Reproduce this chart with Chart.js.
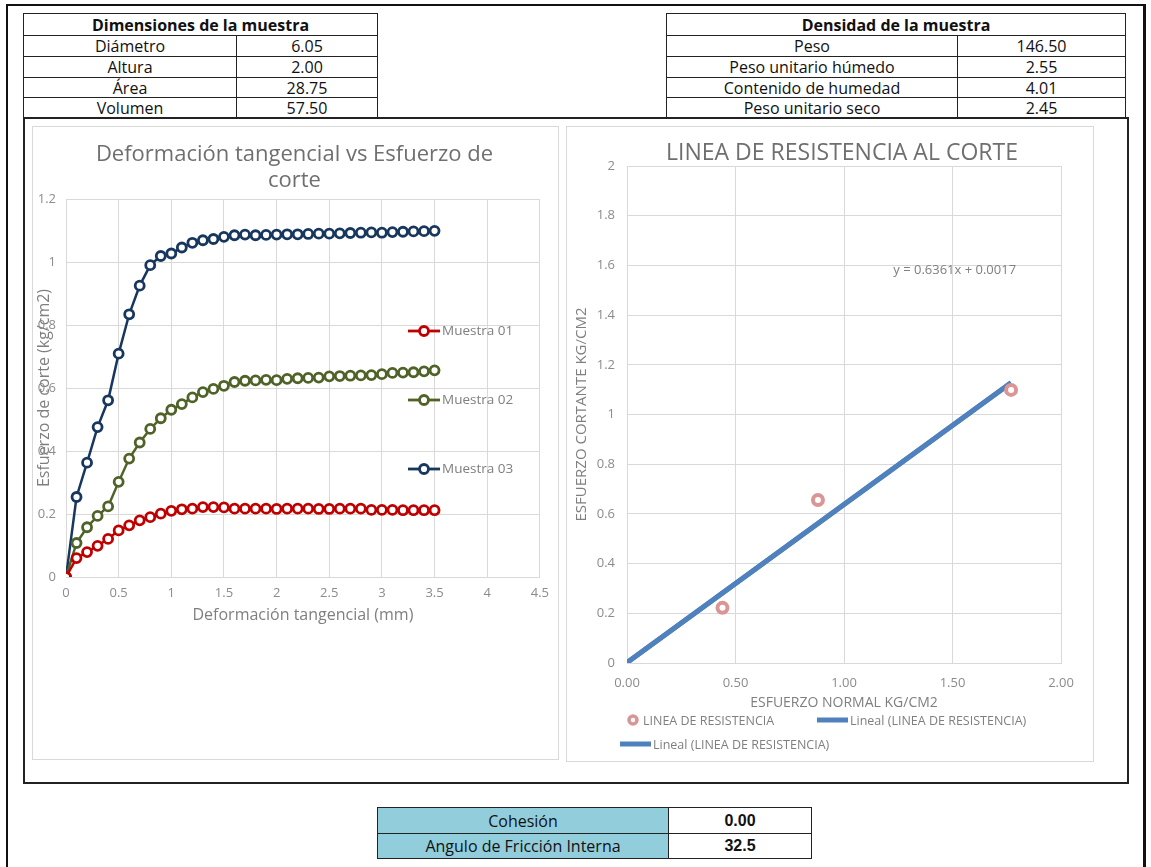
<!DOCTYPE html>
<html lang="es">
<head>
    <meta charset="UTF-8">
    <title>Ensayo de corte directo</title>
    <style>
        body {
            margin: 0;
            width: 1151px;
            height: 867px;
            overflow: hidden;
            background: #fff;
            font-family: "Open Sans", sans-serif;
            position: relative;
        }
        .marco {
            position: absolute;
            left: 6px;
            top: 4px;
            width: 1135px;
            height: 900px;
            border: 2px solid #111;
            border-right-width: 3px;
        }
        .interior {
            position: absolute;
            left: 23px;
            top: 117px;
            width: 1102px;
            height: 663px;
            border: 2px solid #222;
        }
        table {
            position: absolute;
            border-collapse: collapse;
            font-size: 16px;
            color: #111;
        }
        table td, table th {
            border: 1.5px solid #222;
            padding: 0;
            text-align: center;
            line-height: 16px;
        }
        table th {
            font-weight: bold;
        }
        .caja {
            position: absolute;
            border: 1px solid #d9d9d9;
        }
        .titulo {
            position: absolute;
            text-align: center;
            color: #6f6f6f;
            line-height: 26px;
        }
        .resumen td.etiqueta {
            background: #92cddc;
        }
        .resumen td.valor {
            font-family: "Liberation Sans", Arial, sans-serif;
            font-weight: bold;
        }
    </style>
</head>
<body>
    <div class="marco"></div>
    <div class="interior"></div>

    <table id="dimensiones" style="left:23px; top:13px; width:355px;">
        <tr style="height:22px"><th colspan="2">Dimensiones de la muestra</th></tr>
        <tr style="height:21px"><td style="width:212px">Diámetro</td><td>6.05</td></tr>
        <tr style="height:21px"><td>Altura</td><td>2.00</td></tr>
        <tr style="height:20px"><td>Área</td><td>28.75</td></tr>
        <tr style="height:21px"><td>Volumen</td><td>57.50</td></tr>
    </table>

    <table id="densidad" style="left:666px; top:13px; width:460px;">
        <tr style="height:22px"><th colspan="2">Densidad de la muestra</th></tr>
        <tr style="height:21px"><td style="width:290px">Peso</td><td>146.50</td></tr>
        <tr style="height:21px"><td>Peso unitario húmedo</td><td>2.55</td></tr>
        <tr style="height:20px"><td>Contenido de humedad</td><td>4.01</td></tr>
        <tr style="height:21px"><td>Peso unitario seco</td><td>2.45</td></tr>
    </table>

    <div class="caja" style="left:32px; top:126px; width:525px; height:632px;"></div>
    <div class="caja" style="left:566px; top:126px; width:526px; height:634px;"></div>

    <div style="position:absolute; left:32px; top:126px; width:525px; height:632px;">
        <canvas id="graficoDeformacion"></canvas>
    </div>
    <div style="position:absolute; left:566px; top:126px; width:526px; height:634px;">
        <canvas id="graficoResistencia"></canvas>
    </div>

    <div class="titulo" style="left:32px; top:139px; width:525px; font-size:22px;">Deformación tangencial vs Esfuerzo de<br>corte</div>
    <div class="titulo" style="left:566px; top:138px; width:552px; font-size:23px;">LINEA DE RESISTENCIA AL CORTE</div>

    <table class="resumen" style="left:377px; top:807px; width:435px;">
        <tr style="height:26px"><td class="etiqueta" style="width:290px">Cohesión</td><td class="valor">0.00</td></tr>
        <tr style="height:25px"><td class="etiqueta">Angulo de Fricción Interna</td><td class="valor">32.5</td></tr>
    </table>

    <script src="https://cdn.jsdelivr.net/npm/chart.js"></script>
    <script>
        // deformación tangencial (mm) de cada lectura
        var deformacion = [0, 0.1, 0.2, 0.3, 0.4, 0.5, 0.6, 0.7, 0.8, 0.9,
            1.0, 1.1, 1.2, 1.3, 1.4, 1.5, 1.6, 1.7, 1.8, 1.9,
            2.0, 2.1, 2.2, 2.3, 2.4, 2.5, 2.6, 2.7, 2.8, 2.9,
            3.0, 3.1, 3.2, 3.3, 3.4, 3.5];

        // esfuerzo de corte (kg/cm2) por muestra
        var muestra01 = [0, 0.060, 0.079, 0.099, 0.121, 0.148, 0.164, 0.180, 0.190, 0.201,
            0.210, 0.215, 0.217, 0.222, 0.222, 0.221, 0.217, 0.217, 0.217, 0.217,
            0.216, 0.217, 0.217, 0.217, 0.216, 0.216, 0.217, 0.217, 0.217, 0.213,
            0.213, 0.213, 0.212, 0.212, 0.212, 0.212];
        var muestra02 = [0, 0.108, 0.158, 0.194, 0.224, 0.302, 0.376, 0.427, 0.470, 0.504,
            0.531, 0.549, 0.570, 0.587, 0.597, 0.607, 0.619, 0.623, 0.624, 0.626,
            0.625, 0.629, 0.631, 0.632, 0.633, 0.637, 0.638, 0.639, 0.640, 0.641,
            0.644, 0.648, 0.649, 0.650, 0.653, 0.656];
        var muestra03 = [0, 0.254, 0.363, 0.476, 0.561, 0.709, 0.834, 0.925, 0.990, 1.019,
            1.027, 1.046, 1.061, 1.069, 1.073, 1.080, 1.085, 1.087, 1.085, 1.086,
            1.087, 1.088, 1.088, 1.089, 1.090, 1.090, 1.091, 1.092, 1.093, 1.094,
            1.093, 1.095, 1.096, 1.097, 1.098, 1.099];

        var nombresMuestras = ['Muestra 01', 'Muestra 02', 'Muestra 03'];
        var coloresMuestras = ['#c00000', '#4f6228', '#17375e'];

        // envolvente de falla
        var esfuerzoNormal = [0.44, 0.88, 1.77];
        var esfuerzoCortante = [0.222, 0.656, 1.099];
        var pendiente = 0.6361;
        var intercepto = 0.0017;

        Chart.defaults.font.family = '"Open Sans", sans-serif';
        Chart.defaults.color = '#8c8c8c';
        Chart.defaults.animation = false;

        // 1.0 -> "1", 0.2 -> "0.2"
        function sinCeros(v) {
            return String(Math.round(v * 10) / 10);
        }

        function serie(valores, i) {
            return {
                label: nombresMuestras[i],
                data: deformacion.map(function (x, k) { return { x: x, y: valores[k] }; }),
                borderColor: coloresMuestras[i],
                backgroundColor: '#ffffff',
                borderWidth: 2.5,
                pointRadius: 4.5,
                pointBorderWidth: 2.8,
                pointBackgroundColor: '#ffffff',
                pointBorderColor: coloresMuestras[i],
                tension: 0
            };
        }

        // leyenda dentro del área del gráfico, como en la hoja original
        var leyendaMuestras = {
            id: 'leyendaMuestras',
            afterDraw: function (chart) {
                var ctx = chart.ctx;
                chart.data.datasets.forEach(function (ds, i) {
                    var x0 = 376, y = 205 + i * 69;
                    ctx.save();
                    ctx.strokeStyle = ds.borderColor;
                    ctx.lineWidth = 2.8;
                    ctx.beginPath();
                    ctx.moveTo(x0, y);
                    ctx.lineTo(x0 + 32, y);
                    ctx.stroke();
                    ctx.beginPath();
                    ctx.arc(x0 + 16, y, 4.5, 0, Math.PI * 2);
                    ctx.fillStyle = '#ffffff';
                    ctx.fill();
                    ctx.stroke();
                    ctx.fillStyle = '#7f7f7f';
                    ctx.font = '13.5px "Open Sans", sans-serif';
                    ctx.textAlign = 'left';
                    ctx.textBaseline = 'middle';
                    ctx.fillText(ds.label, x0 + 34, y);
                    ctx.restore();
                });
            }
        };

        new Chart(document.getElementById('graficoDeformacion'), {
            type: 'line',
            data: {
                datasets: [serie(muestra01, 0), serie(muestra02, 1), serie(muestra03, 2)]
            },
            options: {
                responsive: true,
                maintainAspectRatio: false,
                layout: { padding: { top: 73, right: 17, bottom: 131, left: 0 } },
                plugins: { legend: { display: false }, tooltip: { enabled: false } },
                scales: {
                    x: {
                        type: 'linear',
                        min: 0,
                        max: 4.5,
                        ticks: { stepSize: 0.5, padding: 8, font: { size: 13 }, callback: sinCeros },
                        grid: { color: '#d9d9d9', drawTicks: false },
                        border: { color: '#d9d9d9' },
                        title: {
                            display: true,
                            text: 'Deformación tangencial (mm)',
                            color: '#7f7f7f',
                            font: { size: 16 },
                            padding: { top: 0, bottom: 2 }
                        },
                        afterFit: function (s) { s.height = 50; }
                    },
                    y: {
                        min: 0,
                        max: 1.2,
                        ticks: { stepSize: 0.2, padding: 10, font: { size: 13 }, callback: sinCeros },
                        grid: { color: '#d9d9d9', drawTicks: false },
                        border: { color: '#d9d9d9' },
                        title: {
                            display: true,
                            text: 'Esfuerzo de corte (kg/cm2)',
                            color: '#7f7f7f',
                            font: { size: 16 },
                            padding: { top: 3, bottom: 0 }
                        },
                        afterFit: function (s) { s.width = 34; }
                    }
                }
            },
            plugins: [leyendaMuestras]
        });

        // ecuación de la recta de ajuste y leyenda inferior
        var anotaciones = {
            id: 'anotaciones',
            afterDraw: function (chart) {
                var ctx = chart.ctx;
                var sx = chart.scales.x, sy = chart.scales.y;
                ctx.save();
                ctx.fillStyle = '#7f7f7f';
                ctx.font = '13px "Open Sans", sans-serif';
                ctx.textAlign = 'center';
                ctx.textBaseline = 'middle';
                ctx.fillText('y = ' + pendiente + 'x + ' + intercepto, sx.getPixelForValue(1.51), sy.getPixelForValue(1.58));

                ctx.font = '12.5px "Open Sans", sans-serif';
                ctx.textAlign = 'left';
                // punto
                ctx.beginPath();
                ctx.arc(67, 594, 4, 0, Math.PI * 2);
                ctx.lineWidth = 3.5;
                ctx.strokeStyle = '#d99694';
                ctx.fillStyle = '#ffffff';
                ctx.fill();
                ctx.stroke();
                ctx.fillStyle = '#7f7f7f';
                ctx.fillText(chart.data.datasets[0].label, 77, 595);
                // líneas de tendencia
                [[251, 594], [54, 618]].forEach(function (p, i) {
                    ctx.fillStyle = '#4f81bd';
                    ctx.fillRect(p[0], p[1] - 2.5, 31, 5);
                    ctx.fillStyle = '#7f7f7f';
                    ctx.fillText(chart.data.datasets[i + 1].label, p[0] + 33, p[1] + 1);
                });
                ctx.restore();
            }
        };

        var recta = [0, esfuerzoNormal[esfuerzoNormal.length - 1]].map(function (x) {
            return { x: x, y: pendiente * x + intercepto };
        });

        new Chart(document.getElementById('graficoResistencia'), {
            type: 'scatter',
            data: {
                datasets: [
                    {
                        label: 'LINEA DE RESISTENCIA',
                        data: esfuerzoNormal.map(function (x, k) { return { x: x, y: esfuerzoCortante[k] }; }),
                        pointRadius: 5,
                        pointBorderWidth: 4,
                        pointBorderColor: '#d99694',
                        pointBackgroundColor: '#ffffff',
                        order: 0
                    },
                    {
                        label: 'Lineal (LINEA DE RESISTENCIA)',
                        data: recta,
                        showLine: true,
                        borderColor: '#4f81bd',
                        borderWidth: 5,
                        pointRadius: 0,
                        order: 1
                    },
                    {
                        label: 'Lineal (LINEA DE RESISTENCIA)',
                        data: recta,
                        showLine: true,
                        borderColor: '#4f81bd',
                        borderWidth: 5,
                        pointRadius: 0,
                        order: 2
                    }
                ]
            },
            options: {
                responsive: true,
                maintainAspectRatio: false,
                layout: { padding: { top: 40, right: 31, bottom: 47, left: 0 } },
                plugins: { legend: { display: false }, tooltip: { enabled: false } },
                scales: {
                    x: {
                        type: 'linear',
                        min: 0,
                        max: 2,
                        ticks: {
                            stepSize: 0.5,
                            padding: 12,
                            font: { size: 13 },
                            callback: function (v) { return v.toFixed(2); }
                        },
                        grid: { color: '#d9d9d9', drawTicks: false },
                        border: { color: '#d9d9d9' },
                        title: {
                            display: true,
                            text: 'ESFUERZO NORMAL KG/CM2',
                            color: '#7f7f7f',
                            font: { size: 14 },
                            padding: { top: 0, bottom: 2 }
                        },
                        afterFit: function (s) { s.height = 50; }
                    },
                    y: {
                        min: 0,
                        max: 2,
                        ticks: { stepSize: 0.2, padding: 12, font: { size: 13 }, callback: sinCeros },
                        grid: { color: '#d9d9d9', drawTicks: false },
                        border: { color: '#d9d9d9' },
                        title: {
                            display: true,
                            text: 'ESFUERZO CORTANTE KG/CM2',
                            color: '#7f7f7f',
                            font: { size: 15 },
                            padding: { top: 7, bottom: 0 }
                        },
                        afterFit: function (s) { s.width = 61; }
                    }
                }
            },
            plugins: [anotaciones]
        });
    </script>
</body>
</html>
